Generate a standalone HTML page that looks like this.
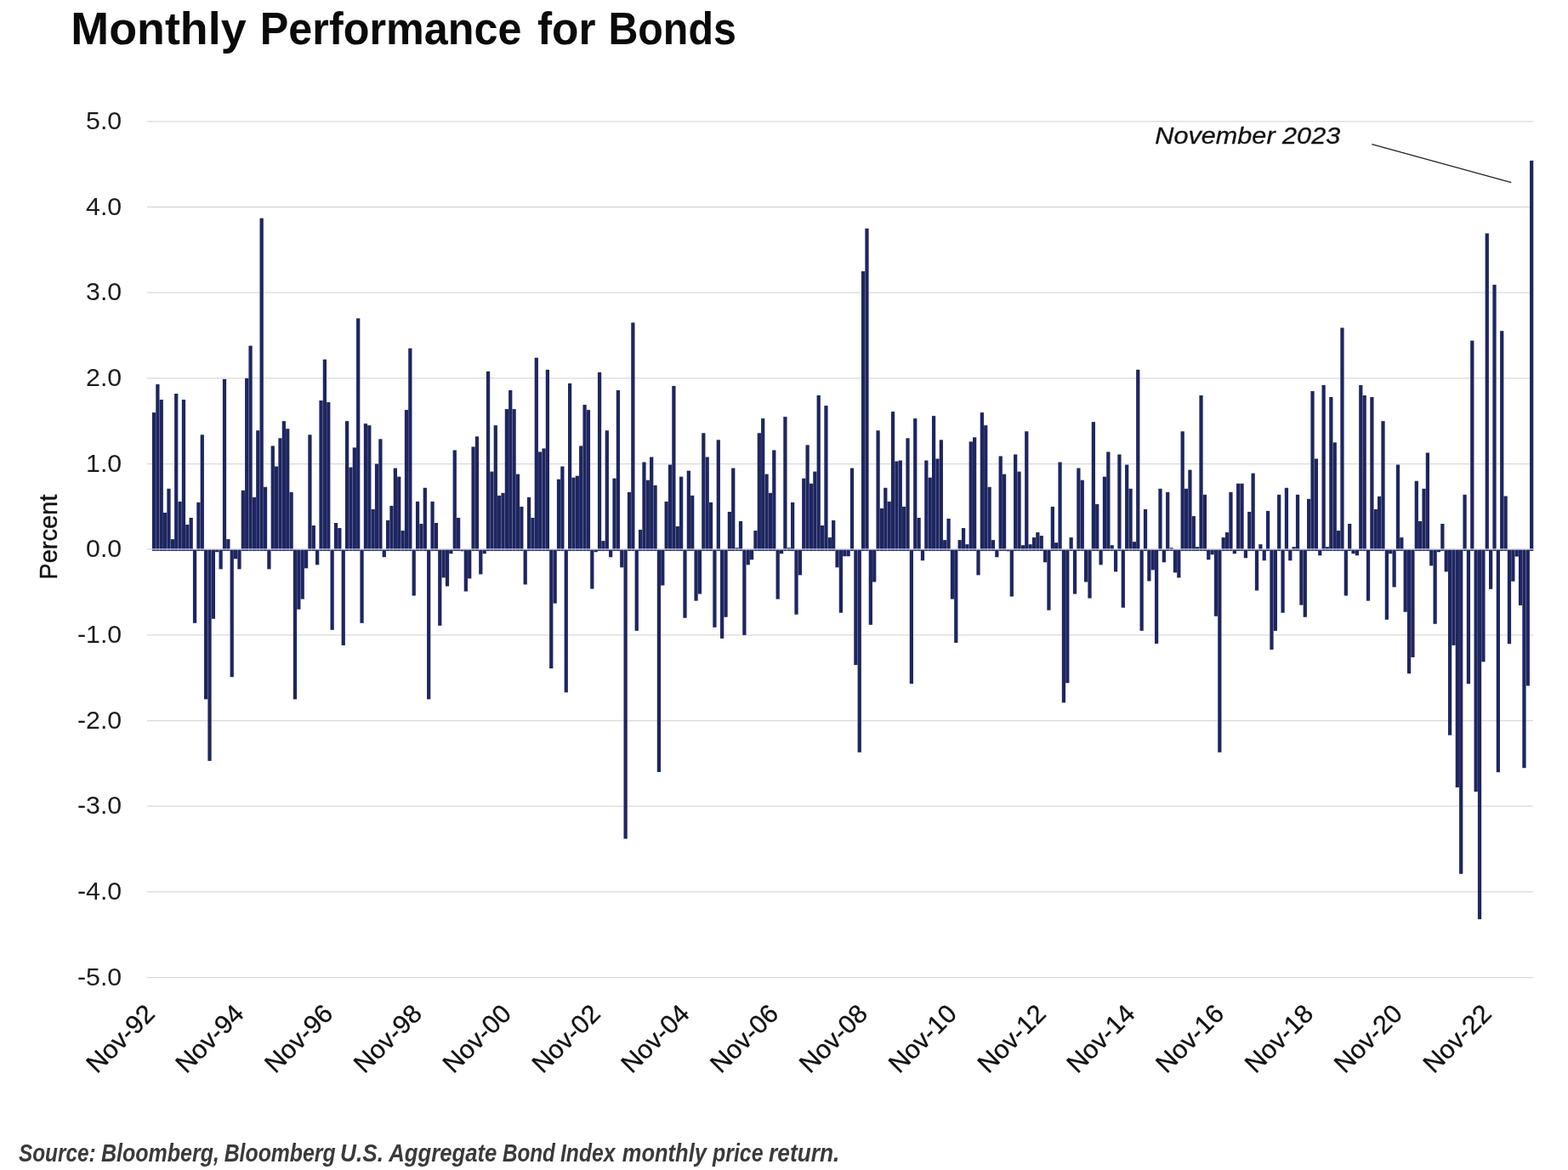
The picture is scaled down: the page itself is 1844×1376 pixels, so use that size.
<!DOCTYPE html>
<html lang="en">
<head>
<meta charset="utf-8">
<title>Monthly Performance for Bonds</title>
<style>
html,body{margin:0;padding:0;background:#fff;}
body{width:1844px;height:1376px;overflow:hidden;position:relative;font-family:'Liberation Sans', sans-serif;}
svg{position:absolute;left:0;top:0;display:block;}
text{font-family:'Liberation Sans', sans-serif;}
.ax{font-size:30.4px;fill:#1c1c1c;}
.xl{font-size:30.5px;fill:#111;stroke:#111;stroke-width:0.3px;}
.pct{font-size:28.6px;fill:#111;stroke:#111;stroke-width:0.4px;}
.title{font-size:53.5px;font-weight:bold;fill:#0a0a0a;}
.note{font-size:28.5px;font-style:italic;fill:#111;stroke:#111;stroke-width:0.3px;}
.src{font-size:29px;font-weight:bold;font-style:italic;fill:#3a3a3a;}
</style>
</head>
<body>
<svg width="1844" height="1376" viewBox="0 0 1844 1376">
<rect width="1844" height="1376" fill="#ffffff"/>
<text class="title" y="52.3"><tspan x="83.30" textLength="206.29" lengthAdjust="spacingAndGlyphs">Monthly</tspan> <tspan x="305.80" textLength="307.68" lengthAdjust="spacingAndGlyphs">Performance</tspan> <tspan x="631.90" textLength="68.67" lengthAdjust="spacingAndGlyphs">for</tspan> <tspan x="715.40" textLength="150.46" lengthAdjust="spacingAndGlyphs">Bonds</tspan></text>
<g stroke="#d9d9d9" stroke-width="1.3">
<line x1="173" x2="1803" y1="1149.55" y2="1149.55"/>
<line x1="173" x2="1803" y1="1048.88" y2="1048.88"/>
<line x1="173" x2="1803" y1="948.21" y2="948.21"/>
<line x1="173" x2="1803" y1="847.54" y2="847.54"/>
<line x1="173" x2="1803" y1="746.87" y2="746.87"/>
<line x1="173" x2="1803" y1="545.53" y2="545.53"/>
<line x1="173" x2="1803" y1="444.86" y2="444.86"/>
<line x1="173" x2="1803" y1="344.19" y2="344.19"/>
<line x1="173" x2="1803" y1="243.52" y2="243.52"/>
<line x1="173" x2="1803" y1="142.85" y2="142.85"/>
</g>
<g class="ax" text-anchor="end">
<text transform="translate(143.2,151.95) scale(0.996,1)">5.0</text>
<text transform="translate(143.2,252.62) scale(0.996,1)">4.0</text>
<text transform="translate(143.2,353.29) scale(0.996,1)">3.0</text>
<text transform="translate(143.2,453.96) scale(0.996,1)">2.0</text>
<text transform="translate(143.2,554.63) scale(0.996,1)">1.0</text>
<text transform="translate(143.2,655.30) scale(0.996,1)">0.0</text>
<text transform="translate(143.2,755.97) scale(0.996,1)">-1.0</text>
<text transform="translate(143.2,856.64) scale(0.996,1)">-2.0</text>
<text transform="translate(143.2,957.31) scale(0.996,1)">-3.0</text>
<text transform="translate(143.2,1057.98) scale(0.996,1)">-4.0</text>
<text transform="translate(143.2,1158.65) scale(0.996,1)">-5.0</text>
</g>
<text class="pct" text-anchor="middle" transform="translate(67.4,631.6) rotate(-90) scale(1.017,1)">Percent</text>
<g fill="#1e2660">
<rect x="178.89" y="485.13" width="4.25" height="162.77"/>
<rect x="183.26" y="451.91" width="4.25" height="195.99"/>
<rect x="187.63" y="470.03" width="4.25" height="177.87"/>
<rect x="191.99" y="602.91" width="4.25" height="44.99"/>
<rect x="196.36" y="574.72" width="4.25" height="73.18"/>
<rect x="200.73" y="634.12" width="4.25" height="13.78"/>
<rect x="205.09" y="462.98" width="4.25" height="184.92"/>
<rect x="209.46" y="589.82" width="4.25" height="58.08"/>
<rect x="213.83" y="470.03" width="4.25" height="177.87"/>
<rect x="218.19" y="617.01" width="4.25" height="30.89"/>
<rect x="222.56" y="608.95" width="4.25" height="38.95"/>
<rect x="226.93" y="646.20" width="4.25" height="86.58"/>
<rect x="231.30" y="590.83" width="4.25" height="57.07"/>
<rect x="235.66" y="511.30" width="4.25" height="136.60"/>
<rect x="240.03" y="646.20" width="4.25" height="176.17"/>
<rect x="244.40" y="646.20" width="4.25" height="248.65"/>
<rect x="248.76" y="646.20" width="4.25" height="81.54"/>
<rect x="253.13" y="646.20" width="4.25" height="3.02"/>
<rect x="257.50" y="646.20" width="4.25" height="23.15"/>
<rect x="261.87" y="445.87" width="4.25" height="202.03"/>
<rect x="266.23" y="634.12" width="4.25" height="13.78"/>
<rect x="270.60" y="646.20" width="4.25" height="150.00"/>
<rect x="274.97" y="646.20" width="4.25" height="11.07"/>
<rect x="279.33" y="646.20" width="4.25" height="23.15"/>
<rect x="283.70" y="576.74" width="4.25" height="71.16"/>
<rect x="288.07" y="444.86" width="4.25" height="203.04"/>
<rect x="292.43" y="406.61" width="4.25" height="241.29"/>
<rect x="296.80" y="584.79" width="4.25" height="63.11"/>
<rect x="301.17" y="506.27" width="4.25" height="141.63"/>
<rect x="305.53" y="256.61" width="4.25" height="391.29"/>
<rect x="309.90" y="572.71" width="4.25" height="75.19"/>
<rect x="314.27" y="646.20" width="4.25" height="23.15"/>
<rect x="318.64" y="524.39" width="4.25" height="123.51"/>
<rect x="323.00" y="548.55" width="4.25" height="99.35"/>
<rect x="327.37" y="515.33" width="4.25" height="132.57"/>
<rect x="331.74" y="495.20" width="4.25" height="152.70"/>
<rect x="336.10" y="504.26" width="4.25" height="143.64"/>
<rect x="340.47" y="578.75" width="4.25" height="69.15"/>
<rect x="344.84" y="646.20" width="4.25" height="176.17"/>
<rect x="349.21" y="646.20" width="4.25" height="70.47"/>
<rect x="353.57" y="646.20" width="4.25" height="58.39"/>
<rect x="357.94" y="646.20" width="4.25" height="22.15"/>
<rect x="362.31" y="511.30" width="4.25" height="136.60"/>
<rect x="366.67" y="618.01" width="4.25" height="29.89"/>
<rect x="371.04" y="646.20" width="4.25" height="18.12"/>
<rect x="375.41" y="471.03" width="4.25" height="176.87"/>
<rect x="379.77" y="422.71" width="4.25" height="225.19"/>
<rect x="384.14" y="473.05" width="4.25" height="174.85"/>
<rect x="388.51" y="646.20" width="4.25" height="94.63"/>
<rect x="392.88" y="614.99" width="4.25" height="32.91"/>
<rect x="397.24" y="621.03" width="4.25" height="26.87"/>
<rect x="401.61" y="646.20" width="4.25" height="112.75"/>
<rect x="405.98" y="495.20" width="4.25" height="152.70"/>
<rect x="410.34" y="549.56" width="4.25" height="98.34"/>
<rect x="414.71" y="526.40" width="4.25" height="121.50"/>
<rect x="419.08" y="374.39" width="4.25" height="273.51"/>
<rect x="423.44" y="646.20" width="4.25" height="86.58"/>
<rect x="427.81" y="498.22" width="4.25" height="149.68"/>
<rect x="432.18" y="500.23" width="4.25" height="147.67"/>
<rect x="436.54" y="598.89" width="4.25" height="49.01"/>
<rect x="440.91" y="545.53" width="4.25" height="102.37"/>
<rect x="445.28" y="516.34" width="4.25" height="131.56"/>
<rect x="449.65" y="646.20" width="4.25" height="9.06"/>
<rect x="454.01" y="611.97" width="4.25" height="35.93"/>
<rect x="458.38" y="594.86" width="4.25" height="53.04"/>
<rect x="462.75" y="550.56" width="4.25" height="97.34"/>
<rect x="467.11" y="560.63" width="4.25" height="87.27"/>
<rect x="471.48" y="624.05" width="4.25" height="23.85"/>
<rect x="475.85" y="482.11" width="4.25" height="165.79"/>
<rect x="480.22" y="409.63" width="4.25" height="238.27"/>
<rect x="484.58" y="646.20" width="4.25" height="54.36"/>
<rect x="488.95" y="589.82" width="4.25" height="58.08"/>
<rect x="493.32" y="616.00" width="4.25" height="31.90"/>
<rect x="497.68" y="573.72" width="4.25" height="74.18"/>
<rect x="502.05" y="646.20" width="4.25" height="176.17"/>
<rect x="506.42" y="589.82" width="4.25" height="58.08"/>
<rect x="510.78" y="614.99" width="4.25" height="32.91"/>
<rect x="515.15" y="646.20" width="4.25" height="89.60"/>
<rect x="519.52" y="646.20" width="4.25" height="33.22"/>
<rect x="523.88" y="646.20" width="4.25" height="43.29"/>
<rect x="528.25" y="646.20" width="4.25" height="5.03"/>
<rect x="532.62" y="529.42" width="4.25" height="118.48"/>
<rect x="536.99" y="608.95" width="4.25" height="38.95"/>
<rect x="541.35" y="646.20" width="4.25" height="2.01"/>
<rect x="545.72" y="646.20" width="4.25" height="49.33"/>
<rect x="550.09" y="646.20" width="4.25" height="34.23"/>
<rect x="554.45" y="525.40" width="4.25" height="122.50"/>
<rect x="558.82" y="513.32" width="4.25" height="134.58"/>
<rect x="563.19" y="646.20" width="4.25" height="29.19"/>
<rect x="567.55" y="646.20" width="4.25" height="5.03"/>
<rect x="571.92" y="436.81" width="4.25" height="211.09"/>
<rect x="576.29" y="554.59" width="4.25" height="93.31"/>
<rect x="580.66" y="500.23" width="4.25" height="147.67"/>
<rect x="585.02" y="582.78" width="4.25" height="65.12"/>
<rect x="589.39" y="579.76" width="4.25" height="68.14"/>
<rect x="593.76" y="481.10" width="4.25" height="166.80"/>
<rect x="598.12" y="458.95" width="4.25" height="188.95"/>
<rect x="602.49" y="481.10" width="4.25" height="166.80"/>
<rect x="606.86" y="557.61" width="4.25" height="90.29"/>
<rect x="611.23" y="595.87" width="4.25" height="52.04"/>
<rect x="615.59" y="646.20" width="4.25" height="41.27"/>
<rect x="619.96" y="584.79" width="4.25" height="63.11"/>
<rect x="624.33" y="608.95" width="4.25" height="38.95"/>
<rect x="628.69" y="420.70" width="4.25" height="227.20"/>
<rect x="633.06" y="531.44" width="4.25" height="116.46"/>
<rect x="637.43" y="527.41" width="4.25" height="120.49"/>
<rect x="641.79" y="434.79" width="4.25" height="213.11"/>
<rect x="646.16" y="646.20" width="4.25" height="139.93"/>
<rect x="650.53" y="646.20" width="4.25" height="63.42"/>
<rect x="654.89" y="563.65" width="4.25" height="84.25"/>
<rect x="659.26" y="548.55" width="4.25" height="99.35"/>
<rect x="663.63" y="646.20" width="4.25" height="168.12"/>
<rect x="668.00" y="450.90" width="4.25" height="197.00"/>
<rect x="672.36" y="561.64" width="4.25" height="86.26"/>
<rect x="676.73" y="559.62" width="4.25" height="88.28"/>
<rect x="681.10" y="524.39" width="4.25" height="123.51"/>
<rect x="685.46" y="476.07" width="4.25" height="171.83"/>
<rect x="689.83" y="482.11" width="4.25" height="165.79"/>
<rect x="694.20" y="646.20" width="4.25" height="46.31"/>
<rect x="698.56" y="646.20" width="4.25" height="3.02"/>
<rect x="702.93" y="437.81" width="4.25" height="210.09"/>
<rect x="707.30" y="636.13" width="4.25" height="11.77"/>
<rect x="711.67" y="506.27" width="4.25" height="141.63"/>
<rect x="716.03" y="646.20" width="4.25" height="9.06"/>
<rect x="720.40" y="562.64" width="4.25" height="85.26"/>
<rect x="724.77" y="458.95" width="4.25" height="188.95"/>
<rect x="729.13" y="646.20" width="4.25" height="21.14"/>
<rect x="733.50" y="646.20" width="4.25" height="340.26"/>
<rect x="737.87" y="578.75" width="4.25" height="69.15"/>
<rect x="742.24" y="379.42" width="4.25" height="268.48"/>
<rect x="746.60" y="646.20" width="4.25" height="95.64"/>
<rect x="750.97" y="623.05" width="4.25" height="24.85"/>
<rect x="755.34" y="543.52" width="4.25" height="104.38"/>
<rect x="759.70" y="564.66" width="4.25" height="83.24"/>
<rect x="764.07" y="537.48" width="4.25" height="110.42"/>
<rect x="768.44" y="570.70" width="4.25" height="77.20"/>
<rect x="772.80" y="646.20" width="4.25" height="261.74"/>
<rect x="777.17" y="646.20" width="4.25" height="42.28"/>
<rect x="781.54" y="589.82" width="4.25" height="58.08"/>
<rect x="785.90" y="546.54" width="4.25" height="101.36"/>
<rect x="790.27" y="453.92" width="4.25" height="193.98"/>
<rect x="794.64" y="619.02" width="4.25" height="28.88"/>
<rect x="799.01" y="560.63" width="4.25" height="87.27"/>
<rect x="803.37" y="646.20" width="4.25" height="80.54"/>
<rect x="807.74" y="553.58" width="4.25" height="94.32"/>
<rect x="812.11" y="582.78" width="4.25" height="65.12"/>
<rect x="816.47" y="646.20" width="4.25" height="60.40"/>
<rect x="820.84" y="646.20" width="4.25" height="52.35"/>
<rect x="825.21" y="509.29" width="4.25" height="138.61"/>
<rect x="829.57" y="537.48" width="4.25" height="110.42"/>
<rect x="833.94" y="590.83" width="4.25" height="57.07"/>
<rect x="838.31" y="646.20" width="4.25" height="91.61"/>
<rect x="842.68" y="517.34" width="4.25" height="130.56"/>
<rect x="847.04" y="646.20" width="4.25" height="104.70"/>
<rect x="851.41" y="646.20" width="4.25" height="79.53"/>
<rect x="855.78" y="601.91" width="4.25" height="45.99"/>
<rect x="860.14" y="550.56" width="4.25" height="97.34"/>
<rect x="864.51" y="644.19" width="4.25" height="3.71"/>
<rect x="868.88" y="612.98" width="4.25" height="34.92"/>
<rect x="873.25" y="646.20" width="4.25" height="100.67"/>
<rect x="877.61" y="646.20" width="4.25" height="18.12"/>
<rect x="881.98" y="646.20" width="4.25" height="12.08"/>
<rect x="886.35" y="624.05" width="4.25" height="23.85"/>
<rect x="890.71" y="509.29" width="4.25" height="138.61"/>
<rect x="895.08" y="492.17" width="4.25" height="155.73"/>
<rect x="899.45" y="557.61" width="4.25" height="90.29"/>
<rect x="903.81" y="579.76" width="4.25" height="68.14"/>
<rect x="908.18" y="529.42" width="4.25" height="118.48"/>
<rect x="912.55" y="646.20" width="4.25" height="58.39"/>
<rect x="916.91" y="646.20" width="4.25" height="5.03"/>
<rect x="921.28" y="490.16" width="4.25" height="157.74"/>
<rect x="925.65" y="644.19" width="4.25" height="3.71"/>
<rect x="930.02" y="590.83" width="4.25" height="57.07"/>
<rect x="934.38" y="646.20" width="4.25" height="76.51"/>
<rect x="938.75" y="646.20" width="4.25" height="30.20"/>
<rect x="943.12" y="562.64" width="4.25" height="85.26"/>
<rect x="947.48" y="523.38" width="4.25" height="124.52"/>
<rect x="951.85" y="568.68" width="4.25" height="79.22"/>
<rect x="956.22" y="554.59" width="4.25" height="93.31"/>
<rect x="960.58" y="464.99" width="4.25" height="182.91"/>
<rect x="964.95" y="618.01" width="4.25" height="29.89"/>
<rect x="969.32" y="477.07" width="4.25" height="170.83"/>
<rect x="973.69" y="632.11" width="4.25" height="15.79"/>
<rect x="978.05" y="611.97" width="4.25" height="35.93"/>
<rect x="982.42" y="646.20" width="4.25" height="21.14"/>
<rect x="986.79" y="646.20" width="4.25" height="74.50"/>
<rect x="991.15" y="646.20" width="4.25" height="8.05"/>
<rect x="995.52" y="646.20" width="4.25" height="8.05"/>
<rect x="999.89" y="550.56" width="4.25" height="97.34"/>
<rect x="1004.25" y="646.20" width="4.25" height="135.90"/>
<rect x="1008.62" y="646.20" width="4.25" height="238.59"/>
<rect x="1012.99" y="319.02" width="4.25" height="328.88"/>
<rect x="1017.36" y="268.69" width="4.25" height="379.21"/>
<rect x="1021.72" y="646.20" width="4.25" height="88.59"/>
<rect x="1026.09" y="646.20" width="4.25" height="38.25"/>
<rect x="1030.46" y="506.27" width="4.25" height="141.63"/>
<rect x="1034.82" y="597.88" width="4.25" height="50.02"/>
<rect x="1039.19" y="573.72" width="4.25" height="74.18"/>
<rect x="1043.56" y="589.82" width="4.25" height="58.08"/>
<rect x="1047.92" y="484.12" width="4.25" height="163.78"/>
<rect x="1052.29" y="542.51" width="4.25" height="105.39"/>
<rect x="1056.66" y="541.50" width="4.25" height="106.40"/>
<rect x="1061.03" y="595.87" width="4.25" height="52.04"/>
<rect x="1065.39" y="515.33" width="4.25" height="132.57"/>
<rect x="1069.76" y="646.20" width="4.25" height="158.05"/>
<rect x="1074.13" y="492.17" width="4.25" height="155.73"/>
<rect x="1078.49" y="608.95" width="4.25" height="38.95"/>
<rect x="1082.86" y="646.20" width="4.25" height="13.09"/>
<rect x="1087.23" y="541.50" width="4.25" height="106.40"/>
<rect x="1091.60" y="561.64" width="4.25" height="86.26"/>
<rect x="1095.96" y="489.15" width="4.25" height="158.75"/>
<rect x="1100.33" y="539.49" width="4.25" height="108.41"/>
<rect x="1104.70" y="517.34" width="4.25" height="130.56"/>
<rect x="1109.06" y="635.13" width="4.25" height="12.77"/>
<rect x="1113.43" y="609.96" width="4.25" height="37.94"/>
<rect x="1117.80" y="646.20" width="4.25" height="58.39"/>
<rect x="1122.16" y="646.20" width="4.25" height="109.73"/>
<rect x="1126.53" y="635.13" width="4.25" height="12.77"/>
<rect x="1130.90" y="621.03" width="4.25" height="26.87"/>
<rect x="1135.27" y="640.16" width="4.25" height="7.74"/>
<rect x="1139.63" y="519.36" width="4.25" height="128.54"/>
<rect x="1144.00" y="514.32" width="4.25" height="133.58"/>
<rect x="1148.37" y="646.20" width="4.25" height="30.20"/>
<rect x="1152.73" y="485.13" width="4.25" height="162.77"/>
<rect x="1157.10" y="500.23" width="4.25" height="147.67"/>
<rect x="1161.47" y="572.71" width="4.25" height="75.19"/>
<rect x="1165.83" y="635.13" width="4.25" height="12.77"/>
<rect x="1170.20" y="646.20" width="4.25" height="9.06"/>
<rect x="1174.57" y="536.47" width="4.25" height="111.43"/>
<rect x="1178.93" y="557.61" width="4.25" height="90.29"/>
<rect x="1183.30" y="646.20" width="4.25" height="2.01"/>
<rect x="1187.67" y="646.20" width="4.25" height="55.37"/>
<rect x="1192.04" y="534.46" width="4.25" height="113.44"/>
<rect x="1196.40" y="554.59" width="4.25" height="93.31"/>
<rect x="1200.77" y="641.17" width="4.25" height="6.73"/>
<rect x="1205.14" y="507.28" width="4.25" height="140.62"/>
<rect x="1209.50" y="640.16" width="4.25" height="7.74"/>
<rect x="1213.87" y="632.11" width="4.25" height="15.79"/>
<rect x="1218.24" y="626.07" width="4.25" height="21.83"/>
<rect x="1222.61" y="630.09" width="4.25" height="17.81"/>
<rect x="1226.97" y="646.20" width="4.25" height="15.10"/>
<rect x="1231.34" y="646.20" width="4.25" height="71.48"/>
<rect x="1235.71" y="595.87" width="4.25" height="52.04"/>
<rect x="1240.07" y="638.15" width="4.25" height="9.75"/>
<rect x="1244.44" y="543.52" width="4.25" height="104.38"/>
<rect x="1248.81" y="646.20" width="4.25" height="180.20"/>
<rect x="1253.17" y="646.20" width="4.25" height="157.05"/>
<rect x="1257.54" y="632.11" width="4.25" height="15.79"/>
<rect x="1261.91" y="646.20" width="4.25" height="52.35"/>
<rect x="1266.28" y="550.56" width="4.25" height="97.34"/>
<rect x="1270.64" y="564.66" width="4.25" height="83.24"/>
<rect x="1275.01" y="646.20" width="4.25" height="38.25"/>
<rect x="1279.38" y="646.20" width="4.25" height="57.38"/>
<rect x="1283.74" y="496.20" width="4.25" height="151.70"/>
<rect x="1288.11" y="592.84" width="4.25" height="55.06"/>
<rect x="1292.48" y="646.20" width="4.25" height="18.12"/>
<rect x="1296.84" y="560.63" width="4.25" height="87.27"/>
<rect x="1301.21" y="531.44" width="4.25" height="116.46"/>
<rect x="1305.58" y="641.17" width="4.25" height="6.73"/>
<rect x="1309.95" y="646.20" width="4.25" height="26.17"/>
<rect x="1314.31" y="534.46" width="4.25" height="113.44"/>
<rect x="1318.68" y="646.20" width="4.25" height="68.46"/>
<rect x="1323.05" y="546.54" width="4.25" height="101.36"/>
<rect x="1327.41" y="574.72" width="4.25" height="73.18"/>
<rect x="1331.78" y="637.14" width="4.25" height="10.76"/>
<rect x="1336.15" y="434.79" width="4.25" height="213.11"/>
<rect x="1340.51" y="646.20" width="4.25" height="95.64"/>
<rect x="1344.88" y="598.89" width="4.25" height="49.01"/>
<rect x="1349.25" y="646.20" width="4.25" height="37.25"/>
<rect x="1353.62" y="646.20" width="4.25" height="24.16"/>
<rect x="1357.98" y="646.20" width="4.25" height="110.74"/>
<rect x="1362.35" y="574.72" width="4.25" height="73.18"/>
<rect x="1366.72" y="646.20" width="4.25" height="15.10"/>
<rect x="1371.08" y="578.75" width="4.25" height="69.15"/>
<rect x="1375.45" y="644.19" width="4.25" height="3.71"/>
<rect x="1379.82" y="646.20" width="4.25" height="27.18"/>
<rect x="1384.18" y="646.20" width="4.25" height="33.22"/>
<rect x="1388.55" y="507.28" width="4.25" height="140.62"/>
<rect x="1392.92" y="574.72" width="4.25" height="73.18"/>
<rect x="1397.29" y="552.58" width="4.25" height="95.32"/>
<rect x="1401.65" y="606.94" width="4.25" height="40.96"/>
<rect x="1406.02" y="643.18" width="4.25" height="4.72"/>
<rect x="1410.39" y="464.99" width="4.25" height="182.91"/>
<rect x="1414.75" y="581.77" width="4.25" height="66.13"/>
<rect x="1419.12" y="646.20" width="4.25" height="12.08"/>
<rect x="1423.49" y="646.20" width="4.25" height="6.04"/>
<rect x="1427.85" y="646.20" width="4.25" height="78.52"/>
<rect x="1432.22" y="646.20" width="4.25" height="238.59"/>
<rect x="1436.59" y="632.11" width="4.25" height="15.79"/>
<rect x="1440.96" y="626.07" width="4.25" height="21.83"/>
<rect x="1445.32" y="578.75" width="4.25" height="69.15"/>
<rect x="1449.69" y="646.20" width="4.25" height="5.03"/>
<rect x="1454.06" y="568.68" width="4.25" height="79.22"/>
<rect x="1458.42" y="568.68" width="4.25" height="79.22"/>
<rect x="1462.79" y="646.20" width="4.25" height="10.07"/>
<rect x="1467.16" y="601.91" width="4.25" height="45.99"/>
<rect x="1471.52" y="556.60" width="4.25" height="91.30"/>
<rect x="1475.89" y="646.20" width="4.25" height="48.32"/>
<rect x="1480.26" y="640.16" width="4.25" height="7.74"/>
<rect x="1484.62" y="646.20" width="4.25" height="13.09"/>
<rect x="1488.99" y="600.90" width="4.25" height="47.00"/>
<rect x="1493.36" y="646.20" width="4.25" height="117.78"/>
<rect x="1497.73" y="646.20" width="4.25" height="95.64"/>
<rect x="1502.09" y="581.77" width="4.25" height="66.13"/>
<rect x="1506.46" y="646.20" width="4.25" height="74.50"/>
<rect x="1510.83" y="573.72" width="4.25" height="74.18"/>
<rect x="1515.19" y="646.20" width="4.25" height="13.09"/>
<rect x="1519.56" y="643.18" width="4.25" height="4.72"/>
<rect x="1523.93" y="581.77" width="4.25" height="66.13"/>
<rect x="1528.30" y="646.20" width="4.25" height="65.44"/>
<rect x="1532.66" y="646.20" width="4.25" height="79.53"/>
<rect x="1537.03" y="586.80" width="4.25" height="61.10"/>
<rect x="1541.40" y="459.96" width="4.25" height="187.94"/>
<rect x="1545.76" y="539.49" width="4.25" height="108.41"/>
<rect x="1550.13" y="646.20" width="4.25" height="7.05"/>
<rect x="1554.50" y="452.91" width="4.25" height="194.99"/>
<rect x="1558.86" y="643.18" width="4.25" height="4.72"/>
<rect x="1563.23" y="467.01" width="4.25" height="180.89"/>
<rect x="1567.60" y="520.36" width="4.25" height="127.54"/>
<rect x="1571.97" y="624.05" width="4.25" height="23.85"/>
<rect x="1576.33" y="385.46" width="4.25" height="262.44"/>
<rect x="1580.70" y="646.20" width="4.25" height="54.36"/>
<rect x="1585.07" y="616.00" width="4.25" height="31.90"/>
<rect x="1589.43" y="646.20" width="4.25" height="5.03"/>
<rect x="1593.80" y="646.20" width="4.25" height="7.05"/>
<rect x="1598.17" y="452.91" width="4.25" height="194.99"/>
<rect x="1602.53" y="464.99" width="4.25" height="182.91"/>
<rect x="1606.90" y="646.20" width="4.25" height="60.40"/>
<rect x="1611.27" y="467.01" width="4.25" height="180.89"/>
<rect x="1615.63" y="598.89" width="4.25" height="49.01"/>
<rect x="1620.00" y="583.78" width="4.25" height="64.12"/>
<rect x="1624.37" y="495.20" width="4.25" height="152.70"/>
<rect x="1628.74" y="646.20" width="4.25" height="82.55"/>
<rect x="1633.10" y="646.20" width="4.25" height="5.03"/>
<rect x="1637.47" y="646.20" width="4.25" height="44.29"/>
<rect x="1641.84" y="546.54" width="4.25" height="101.36"/>
<rect x="1646.20" y="632.11" width="4.25" height="15.79"/>
<rect x="1650.57" y="646.20" width="4.25" height="73.49"/>
<rect x="1654.94" y="646.20" width="4.25" height="145.97"/>
<rect x="1659.31" y="646.20" width="4.25" height="126.84"/>
<rect x="1663.67" y="565.66" width="4.25" height="82.24"/>
<rect x="1668.04" y="612.98" width="4.25" height="34.92"/>
<rect x="1672.41" y="574.72" width="4.25" height="73.18"/>
<rect x="1676.77" y="532.44" width="4.25" height="115.46"/>
<rect x="1681.14" y="646.20" width="4.25" height="19.13"/>
<rect x="1685.51" y="646.20" width="4.25" height="87.58"/>
<rect x="1689.87" y="646.20" width="4.25" height="3.02"/>
<rect x="1694.24" y="616.00" width="4.25" height="31.90"/>
<rect x="1698.61" y="646.20" width="4.25" height="26.17"/>
<rect x="1702.98" y="646.20" width="4.25" height="218.45"/>
<rect x="1707.34" y="646.20" width="4.25" height="112.75"/>
<rect x="1711.71" y="646.20" width="4.25" height="279.86"/>
<rect x="1716.08" y="646.20" width="4.25" height="381.54"/>
<rect x="1720.44" y="581.77" width="4.25" height="66.13"/>
<rect x="1724.81" y="646.20" width="4.25" height="158.05"/>
<rect x="1729.18" y="400.57" width="4.25" height="247.33"/>
<rect x="1733.54" y="646.20" width="4.25" height="284.90"/>
<rect x="1737.91" y="646.20" width="4.25" height="434.89"/>
<rect x="1742.28" y="646.20" width="4.25" height="132.17"/>
<rect x="1746.64" y="274.43" width="4.25" height="373.47"/>
<rect x="1751.01" y="646.20" width="4.25" height="46.60"/>
<rect x="1755.38" y="334.84" width="4.25" height="313.06"/>
<rect x="1759.75" y="646.20" width="4.25" height="262.04"/>
<rect x="1764.11" y="389.20" width="4.25" height="258.70"/>
<rect x="1768.48" y="583.49" width="4.25" height="64.41"/>
<rect x="1772.85" y="646.20" width="4.25" height="111.03"/>
<rect x="1777.21" y="646.20" width="4.25" height="37.54"/>
<rect x="1781.58" y="646.20" width="4.25" height="8.35"/>
<rect x="1785.95" y="646.20" width="4.25" height="65.73"/>
<rect x="1790.32" y="646.20" width="4.25" height="257.00"/>
<rect x="1794.68" y="646.20" width="4.25" height="160.36"/>
<rect x="1799.05" y="188.86" width="4.25" height="459.04"/>
</g>
<line x1="173" x2="1803" y1="645.75" y2="645.75" stroke="#d2d7f3" stroke-width="1.25"/>
<g class="xl" text-anchor="end">
<text transform="translate(183.65,1194.00) rotate(-45)">Nov-92</text>
<text transform="translate(288.46,1194.00) rotate(-45)">Nov-94</text>
<text transform="translate(393.27,1194.00) rotate(-45)">Nov-96</text>
<text transform="translate(498.07,1194.00) rotate(-45)">Nov-98</text>
<text transform="translate(602.88,1194.00) rotate(-45)">Nov-00</text>
<text transform="translate(707.69,1194.00) rotate(-45)">Nov-02</text>
<text transform="translate(812.50,1194.00) rotate(-45)">Nov-04</text>
<text transform="translate(917.31,1194.00) rotate(-45)">Nov-06</text>
<text transform="translate(1022.11,1194.00) rotate(-45)">Nov-08</text>
<text transform="translate(1126.92,1194.00) rotate(-45)">Nov-10</text>
<text transform="translate(1231.73,1194.00) rotate(-45)">Nov-12</text>
<text transform="translate(1336.54,1194.00) rotate(-45)">Nov-14</text>
<text transform="translate(1441.35,1194.00) rotate(-45)">Nov-16</text>
<text transform="translate(1546.15,1194.00) rotate(-45)">Nov-18</text>
<text transform="translate(1650.96,1194.00) rotate(-45)">Nov-20</text>
<text transform="translate(1755.77,1194.00) rotate(-45)">Nov-22</text>
</g>
<text class="note" transform="translate(1358.3,169) scale(1.075,1)">November 2023</text>
<line x1="1613.3" y1="169.6" x2="1777.3" y2="214.7" stroke="#222" stroke-width="1.2"/>
<text class="src" y="1365.8"><tspan x="21.90" textLength="90.76" lengthAdjust="spacingAndGlyphs">Source:</tspan> <tspan x="118.90" textLength="139.15" lengthAdjust="spacingAndGlyphs">Bloomberg,</tspan> <tspan x="263.70" textLength="130.92" lengthAdjust="spacingAndGlyphs">Bloomberg</tspan> <tspan x="400.00" textLength="50.95" lengthAdjust="spacingAndGlyphs">U.S.</tspan> <tspan x="457.20" textLength="127.11" lengthAdjust="spacingAndGlyphs">Aggregate</tspan> <tspan x="590.90" textLength="62.02" lengthAdjust="spacingAndGlyphs">Bond</tspan> <tspan x="659.00" textLength="64.41" lengthAdjust="spacingAndGlyphs">Index</tspan> <tspan x="731.80" textLength="99.11" lengthAdjust="spacingAndGlyphs">monthly</tspan> <tspan x="838.00" textLength="59.52" lengthAdjust="spacingAndGlyphs">price</tspan> <tspan x="904.10" textLength="83.24" lengthAdjust="spacingAndGlyphs">return.</tspan></text>
</svg>
</body>
</html>
